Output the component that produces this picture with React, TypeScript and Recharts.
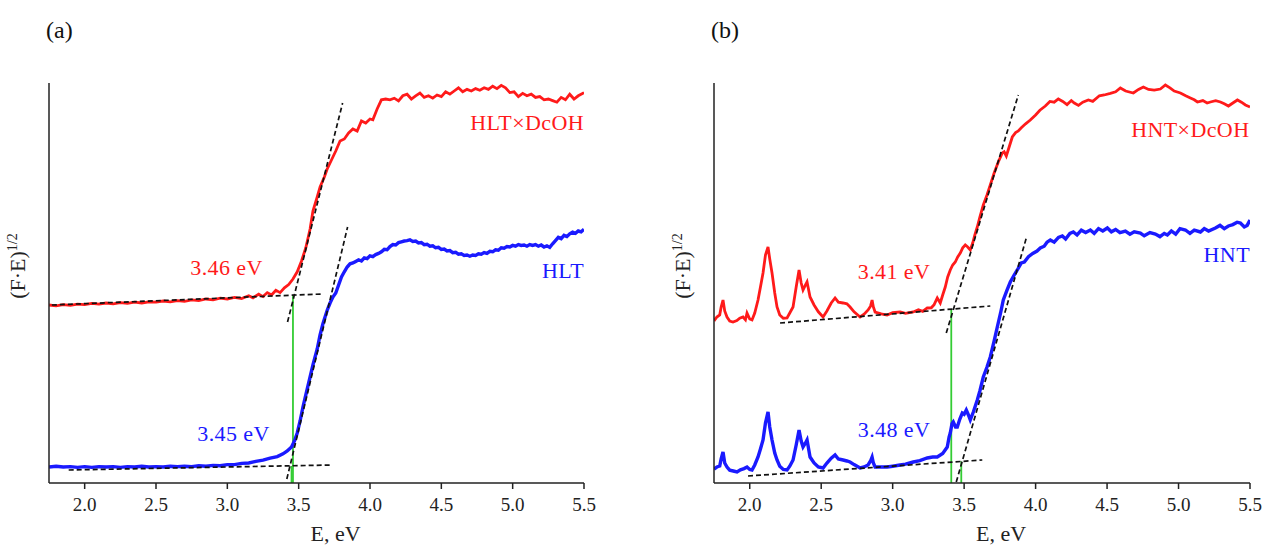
import { LineChart, Line, XAxis, YAxis, ReferenceLine, ReferenceDot, Label } from 'recharts';

type Pt = { e: number; f: number };

const FONT = 'Liberation Serif, DejaVu Serif, serif';
const RED = '#ff1a1a';
const BLUE = '#1a1aff';
const GREEN = '#33cc33';

const xTicks = [2.0, 2.5, 3.0, 3.5, 4.0, 4.5, 5.0, 5.5];

const toPts = (rows: number[][]): Pt[] => rows.map(([e, f]) => ({ e, f }));

// (a) HLT×DcOH
const hltDcoh = toPts([
  [1.75, 44.5], [1.8, 44.3], [1.85, 44.6], [1.9, 44.4], [1.95, 44.7], [2.0, 44.6], [2.05, 44.9], [2.1, 44.7],
  [2.15, 45.0], [2.2, 44.8], [2.25, 45.1], [2.3, 44.9], [2.35, 45.2], [2.4, 45.0], [2.45, 45.3], [2.5, 45.2],
  [2.55, 45.5], [2.6, 45.3], [2.65, 45.6], [2.7, 45.4], [2.75, 45.8], [2.8, 45.6], [2.85, 46.0], [2.9, 45.8],
  [2.95, 46.2], [3.0, 46.0], [3.05, 46.4], [3.1, 46.1], [3.15, 46.8], [3.18, 46.3], [3.22, 47.2], [3.25, 46.6],
  [3.28, 47.6], [3.31, 47.0], [3.34, 48.2], [3.37, 47.6], [3.4, 48.8], [3.43, 49.6], [3.46, 51.0], [3.49, 52.8],
  [3.52, 55.5], [3.55, 58.8], [3.58, 63.5], [3.6, 68.0], [3.63, 71.5], [3.65, 74.0], [3.68, 76.5], [3.7, 78.5],
  [3.72, 80.0], [3.74, 81.5], [3.76, 83.0], [3.79, 85.5], [3.82, 86.0], [3.85, 87.5], [3.88, 88.5], [3.91, 88.0],
  [3.94, 90.5], [3.97, 90.0], [4.0, 91.0], [4.02, 90.8], [4.05, 93.5], [4.08, 95.8], [4.11, 96.0], [4.14, 95.8],
  [4.17, 96.2], [4.2, 95.5], [4.23, 96.8], [4.26, 97.2], [4.29, 96.0], [4.32, 96.8], [4.35, 97.5], [4.38, 96.4],
  [4.41, 96.8], [4.44, 96.2], [4.47, 97.0], [4.5, 96.6], [4.53, 97.8], [4.56, 97.2], [4.59, 98.0], [4.62, 98.8],
  [4.65, 97.8], [4.68, 98.4], [4.71, 98.0], [4.74, 98.6], [4.77, 98.2], [4.8, 98.8], [4.83, 98.4], [4.86, 99.2],
  [4.89, 98.6], [4.92, 99.4], [4.95, 98.8], [4.98, 97.6], [5.01, 97.8], [5.04, 96.6], [5.07, 97.4], [5.1, 96.8],
  [5.13, 97.2], [5.16, 96.4], [5.19, 96.6], [5.22, 95.8], [5.25, 96.0], [5.28, 95.6], [5.31, 95.2], [5.34, 96.4],
  [5.37, 95.8], [5.4, 97.2], [5.43, 96.0], [5.46, 96.8], [5.5, 97.6],
]);

// (a) HLT
const hlt = toPts([
  [1.75, 4.0], [1.8, 4.2], [1.85, 4.0], [1.9, 4.1], [1.95, 3.9], [2.0, 4.1], [2.05, 3.9], [2.1, 4.1],
  [2.15, 4.0], [2.2, 4.1], [2.25, 3.9], [2.3, 4.1], [2.35, 4.0], [2.4, 4.2], [2.45, 4.0], [2.5, 4.1],
  [2.55, 4.0], [2.6, 4.2], [2.65, 4.1], [2.7, 4.2], [2.75, 4.1], [2.8, 4.3], [2.85, 4.2], [2.9, 4.4],
  [2.95, 4.3], [3.0, 4.6], [3.05, 4.6], [3.1, 4.9], [3.15, 5.0], [3.2, 5.4], [3.25, 5.7], [3.3, 6.2],
  [3.35, 6.6], [3.39, 7.3], [3.42, 8.0], [3.45, 9.0], [3.47, 10.5], [3.49, 12.5], [3.51, 15.5], [3.53, 19.0],
  [3.55, 22.0], [3.58, 26.5], [3.6, 29.5], [3.63, 33.5], [3.65, 37.0], [3.67, 39.8], [3.7, 43.2], [3.72, 45.0],
  [3.74, 46.5], [3.76, 47.5], [3.78, 49.5], [3.8, 51.5], [3.82, 52.8], [3.84, 54.0], [3.86, 54.8], [3.88, 55.0],
  [3.9, 55.4], [3.92, 55.8], [3.94, 55.5], [3.96, 56.3], [3.98, 56.1], [4.0, 56.8], [4.02, 56.6], [4.04, 57.1],
  [4.06, 57.4], [4.08, 57.8], [4.1, 58.4], [4.12, 58.3], [4.14, 59.1], [4.16, 59.6], [4.18, 59.5], [4.2, 60.1],
  [4.22, 60.3], [4.24, 60.5], [4.26, 60.6], [4.28, 60.8], [4.3, 60.4], [4.32, 60.5], [4.34, 60.0], [4.36, 60.1],
  [4.38, 59.6], [4.4, 59.7], [4.42, 59.2], [4.44, 59.3], [4.46, 58.8], [4.48, 58.9], [4.5, 58.4], [4.52, 58.5],
  [4.54, 58.0], [4.56, 58.1], [4.58, 57.6], [4.6, 57.7], [4.62, 57.2], [4.64, 57.3], [4.66, 56.9], [4.68, 57.0],
  [4.7, 56.7], [4.72, 57.0], [4.74, 56.9], [4.76, 57.3], [4.78, 57.2], [4.8, 57.6], [4.82, 57.4], [4.84, 57.9],
  [4.86, 57.8], [4.88, 58.3], [4.9, 58.2], [4.92, 58.8], [4.94, 58.7], [4.96, 59.1], [4.98, 59.0], [5.0, 59.4],
  [5.02, 59.2], [5.04, 59.6], [5.06, 59.4], [5.08, 59.5], [5.1, 59.2], [5.12, 59.6], [5.14, 59.4], [5.16, 59.6],
  [5.18, 59.2], [5.2, 59.5], [5.22, 59.0], [5.24, 59.3], [5.26, 58.9], [5.28, 59.8], [5.3, 60.6], [5.32, 61.4],
  [5.34, 61.1], [5.36, 61.9], [5.38, 61.6], [5.4, 62.3], [5.42, 62.7], [5.44, 62.4], [5.46, 63.0], [5.48, 62.8],
  [5.5, 63.4],
]);

// (b) HNT×DcOH
const hntDcoh = toPts([
  [1.75, 40.5], [1.77, 41.5], [1.79, 42.0], [1.8, 44.0], [1.813, 45.75], [1.825, 43.0], [1.841, 41.5], [1.86, 40.5],
  [1.883, 40.25], [1.91, 40.6], [1.93, 41.2], [1.953, 41.5], [1.97, 40.8], [1.981, 42.5], [2.0, 41.0], [2.016, 40.75],
  [2.035, 42.5], [2.058, 45.75], [2.075, 49.0], [2.093, 52.5], [2.11, 57.0], [2.128, 59.0], [2.14, 56.0], [2.156, 52.5],
  [2.175, 47.5], [2.191, 44.0], [2.21, 42.0], [2.235, 41.2], [2.261, 41.25], [2.28, 42.5], [2.303, 44.0], [2.325, 49.0],
  [2.345, 53.25], [2.36, 50.0], [2.373, 48.25], [2.39, 49.5], [2.401, 50.25], [2.422, 46.5], [2.45, 44.5], [2.48, 42.8],
  [2.513, 41.5], [2.54, 43.0], [2.57, 45.0], [2.597, 46.25], [2.62, 45.2], [2.653, 45.0], [2.68, 44.8], [2.702, 44.0],
  [2.73, 42.8], [2.772, 41.5], [2.8, 42.2], [2.828, 43.25], [2.845, 44.2], [2.856, 45.75], [2.865, 44.0], [2.877, 42.75],
  [2.92, 42.3], [2.961, 42.0], [3.0, 42.6], [3.052, 42.75], [3.09, 42.4], [3.144, 42.75], [3.18, 43.3], [3.21, 42.9],
  [3.242, 43.75], [3.27, 43.8], [3.29, 44.6], [3.312, 46.25], [3.333, 45.0], [3.35, 47.0], [3.368, 49.0], [3.385, 51.5],
  [3.403, 53.25], [3.42, 54.5], [3.438, 55.25], [3.455, 56.5], [3.473, 57.5], [3.49, 58.8], [3.508, 59.5], [3.525, 59.0],
  [3.543, 58.25], [3.56, 60.0], [3.575, 62.0], [3.592, 64.0], [3.61, 66.5], [3.634, 69.5], [3.66, 72.0], [3.683, 74.5],
  [3.71, 77.5], [3.739, 80.25], [3.767, 82.5], [3.78, 82.8], [3.795, 81.75], [3.815, 84.0], [3.837, 86.5], [3.86, 87.6],
  [3.879, 88.0], [3.9, 88.8], [3.93, 89.8], [3.963, 90.75], [4.0, 92.0], [4.03, 93.2], [4.068, 94.25], [4.1, 95.4],
  [4.13, 95.2], [4.159, 96.0], [4.19, 95.4], [4.22, 94.6], [4.25, 95.6], [4.271, 95.0], [4.3, 94.4], [4.33, 95.2],
  [4.369, 95.75], [4.4, 95.4], [4.446, 96.8], [4.48, 97.0], [4.523, 97.4], [4.56, 97.8], [4.593, 98.75], [4.63, 98.0],
  [4.684, 97.5], [4.72, 98.4], [4.754, 99.0], [4.79, 98.4], [4.83, 98.2], [4.873, 98.5], [4.908, 99.5], [4.94, 98.8],
  [4.97, 98.0], [5.013, 97.5], [5.05, 96.8], [5.083, 96.25], [5.11, 95.8], [5.132, 95.25], [5.17, 95.6], [5.2, 95.0],
  [5.223, 95.25], [5.26, 95.6], [5.293, 95.25], [5.32, 94.8], [5.349, 94.25], [5.38, 95.0], [5.412, 95.75], [5.44, 95.2],
  [5.468, 94.5], [5.5, 94.0],
]);

// (b) HNT
const hnt = toPts([
  [1.75, 3.5], [1.77, 4.0], [1.79, 4.25], [1.8, 6.0], [1.813, 7.75], [1.825, 5.0], [1.841, 4.0], [1.86, 3.2],
  [1.885, 3.0], [1.911, 2.75], [1.935, 3.3], [1.96, 3.6], [1.981, 4.0], [2.0, 3.4], [2.016, 3.25], [2.035, 4.5],
  [2.058, 6.5], [2.075, 8.5], [2.093, 10.75], [2.11, 15.0], [2.128, 17.75], [2.14, 14.0], [2.156, 10.75], [2.175, 7.5],
  [2.191, 5.75], [2.21, 4.2], [2.235, 3.4], [2.261, 3.25], [2.28, 4.2], [2.303, 5.75], [2.325, 9.5], [2.345, 13.25],
  [2.36, 10.5], [2.373, 9.0], [2.39, 10.0], [2.401, 10.75], [2.422, 6.5], [2.45, 5.0], [2.48, 4.0], [2.513, 3.75],
  [2.54, 5.0], [2.57, 6.2], [2.597, 7.0], [2.62, 6.0], [2.653, 5.75], [2.68, 5.5], [2.702, 5.25], [2.73, 4.6],
  [2.772, 3.75], [2.8, 4.0], [2.828, 4.5], [2.845, 5.5], [2.856, 6.5], [2.865, 5.0], [2.877, 4.0], [2.92, 4.0],
  [2.961, 4.0], [3.0, 4.2], [3.052, 4.5], [3.09, 4.7], [3.144, 5.25], [3.19, 5.6], [3.242, 6.25], [3.28, 6.5],
  [3.312, 6.5], [3.35, 7.4], [3.382, 9.0], [3.395, 11.5], [3.403, 12.5], [3.415, 14.8], [3.424, 15.25], [3.44, 14.0],
  [3.452, 14.0], [3.47, 16.0], [3.487, 17.5], [3.5, 17.2], [3.515, 18.25], [3.53, 17.0], [3.543, 15.75], [3.565, 17.8],
  [3.592, 20.75], [3.61, 23.0], [3.634, 26.5], [3.66, 29.0], [3.683, 31.5], [3.71, 35.5], [3.732, 39.0], [3.755, 42.5],
  [3.774, 45.75], [3.8, 48.2], [3.823, 50.25], [3.85, 52.0], [3.872, 53.25], [3.9, 55.0], [3.921, 55.25], [3.95, 56.6],
  [3.98, 57.4], [4.01, 58.0], [4.033, 58.75], [4.06, 59.2], [4.08, 60.2], [4.103, 60.75], [4.13, 60.2], [4.16, 61.4],
  [4.187, 61.75], [4.21, 61.0], [4.24, 62.4], [4.264, 62.75], [4.29, 62.0], [4.32, 63.2], [4.35, 62.6], [4.383, 63.25],
  [4.41, 62.4], [4.44, 63.6], [4.47, 63.0], [4.502, 63.75], [4.53, 62.8], [4.56, 63.4], [4.59, 62.6], [4.628, 63.0],
  [4.66, 62.2], [4.69, 62.8], [4.733, 62.5], [4.76, 61.8], [4.8, 62.6], [4.838, 62.25], [4.87, 61.6], [4.9, 62.4],
  [4.922, 62.0], [4.95, 63.0], [4.98, 62.2], [5.01, 63.6], [5.048, 63.25], [5.08, 62.4], [5.11, 63.2], [5.153, 62.75],
  [5.18, 63.6], [5.21, 63.0], [5.258, 63.75], [5.29, 64.4], [5.32, 63.6], [5.349, 64.25], [5.38, 64.6], [5.41, 65.2],
  [5.433, 65.0], [5.46, 64.0], [5.48, 64.4], [5.5, 65.75],
]);

// tangent construction lines: [e1, f1, e2, f2]
const tangentsA = [
  [1.77, 44.5, 3.66, 47.25],
  [3.422, 40.25, 3.808, 95],
  [1.888, 3.25, 3.733, 4.5],
  [3.417, 1.0, 3.843, 64],
];
const tangentsB = [
  [2.212, 40, 3.683, 44.25],
  [3.375, 37.5, 3.879, 97],
  [1.988, 1.75, 3.627, 5.75],
  [3.445, 0.25, 3.935, 61.25],
];

// band gap drops: [edge energy, height of the tangent crossing]
const gapsA = [[3.46, 47], [3.45, 4.25]];
const gapsB = [[3.41, 43.5], [3.48, 5.4]];

type Note = { text: string; e: number; f: number; color: string };

const notesA: Note[] = [
  { text: 'HLT×DcOH', e: 5.5, f: 88.25, color: RED },
  { text: 'HLT', e: 5.5, f: 51.25, color: BLUE },
  { text: '3.46 eV', e: 3.248, f: 52, color: RED },
  { text: '3.45 eV', e: 3.297, f: 10.5, color: BLUE },
];
const notesB: Note[] = [
  { text: 'HNT×DcOH', e: 5.496, f: 86.5, color: RED },
  { text: 'HNT', e: 5.5, f: 55.25, color: BLUE },
  { text: '3.41 eV', e: 3.263, f: 51, color: RED },
  { text: '3.48 eV', e: 3.263, f: 11.5, color: BLUE },
];

type PanelProps = {
  title: string;
  left: number;
  width: number;
  marginRight: number;
  upper: Pt[];
  lower: Pt[];
  tangents: number[][];
  gaps: number[][];
  notes: Note[];
};

function Panel({ title, left, width, marginRight, upper, lower, tangents, gaps, notes }: PanelProps) {
  return (
    <div style={{ position: 'absolute', left, top: 0, width, height: 547 }}>
      <div
        style={{ position: 'absolute', left: 46, top: 18, fontFamily: FONT, fontSize: 24, lineHeight: '24px', color: '#111' }}
      >
        {title}
      </div>
      <LineChart width={width} height={547} margin={{ top: 83, right: marginRight, bottom: 0, left: 0 }}>
        <XAxis
          dataKey="e"
          type="number"
          domain={[1.75, 5.5]}
          allowDataOverflow
          ticks={xTicks}
          tickFormatter={(v: number) => v.toFixed(1)}
          height={64}
          tickSize={6}
          tickMargin={9}
          stroke="#222"
          strokeWidth={1.5}
          tick={{ fill: '#222', fontSize: 19, fontFamily: FONT }}
        >
          <Label
            content={({ viewBox }: any) => (
              <text
                x={viewBox.x + viewBox.width / 2 + 19}
                y={viewBox.y + 58}
                textAnchor="middle"
                fontFamily={FONT}
                fontSize={22}
                fill="#222"
              >
                E, eV
              </text>
            )}
          />
        </XAxis>
        <YAxis
          type="number"
          domain={[0, 100]}
          width={49}
          tick={false}
          tickLine={false}
          stroke="#222"
          strokeWidth={1.5}
        >
          <Label
            content={({ viewBox }: any) => {
              const x = viewBox.x + 25;
              const y = viewBox.y + viewBox.height / 2 - 17;
              return (
                <text
                  x={x}
                  y={y}
                  transform={`rotate(-90 ${x} ${y})`}
                  textAnchor="middle"
                  fontFamily={FONT}
                  fontSize={22}
                  fill="#222"
                >
                  (F·E)
                  <tspan dy={-8} fontSize={14}>1/2</tspan>
                </text>
              );
            }}
          />
        </YAxis>

        {gaps.map(([e, top], i) => (
          <ReferenceLine
            key={`g${i}`}
            segment={[{ x: e, y: top }, { x: e, y: 0 }]}
            stroke={GREEN}
            strokeWidth={1.8}
          />
        ))}

        <Line data={upper} dataKey="f" type="linear" stroke={RED} strokeWidth={2.8} dot={false} isAnimationActive={false} />
        <Line data={lower} dataKey="f" type="linear" stroke={BLUE} strokeWidth={3.4} dot={false} isAnimationActive={false} />

        {tangents.map(([e1, f1, e2, f2], i) => (
          <ReferenceLine
            key={`t${i}`}
            segment={[{ x: e1, y: f1 }, { x: e2, y: f2 }]}
            stroke="#111"
            strokeWidth={1.7}
            strokeDasharray="5 3"
          />
        ))}

        {notes.map((n, i) => (
          <ReferenceDot
            key={`n${i}`}
            x={n.e}
            y={n.f}
            r={1}
            shape={(p: any) => (
              <text
                x={p.cx}
                y={p.cy}
                textAnchor="end"
                fontFamily={FONT}
                fontSize={22}
                letterSpacing={0.4}
                fill={n.color}
              >
                {n.text}
              </text>
            )}
          />
        ))}
      </LineChart>
    </div>
  );
}

export default function App() {
  return (
    <div style={{ position: 'fixed', left: 0, top: 0, width: 1262, height: 547, background: '#fff' }}>
      <Panel
        title="(a)"
        left={0}
        width={600}
        marginRight={16}
        upper={hltDcoh}
        lower={hlt}
        tangents={tangentsA}
        gaps={gapsA}
        notes={notesA}
      />
      <Panel
        title="(b)"
        left={665}
        width={597}
        marginRight={12}
        upper={hntDcoh}
        lower={hnt}
        tangents={tangentsB}
        gaps={gapsB}
        notes={notesB}
      />
    </div>
  );
}
